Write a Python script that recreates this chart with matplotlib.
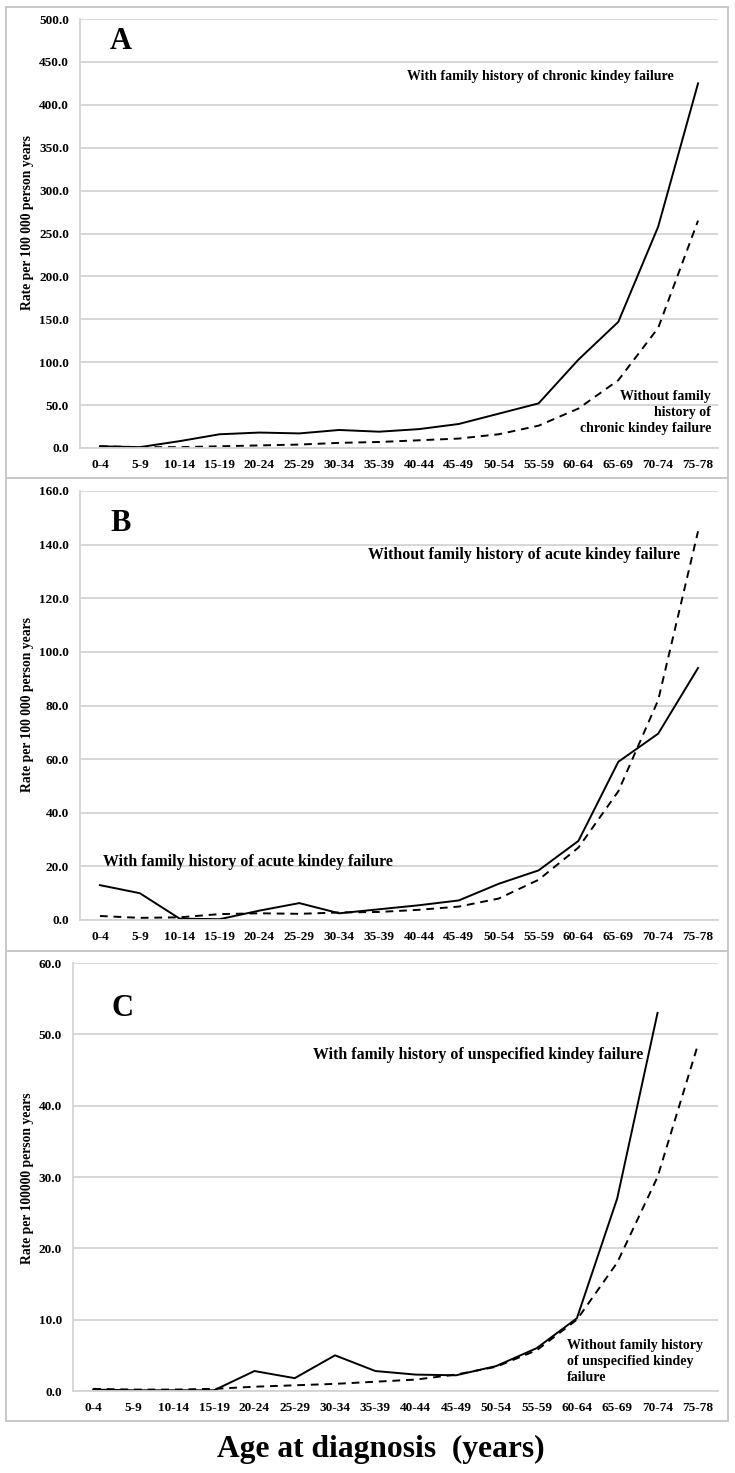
import matplotlib
matplotlib.use("Agg")
import matplotlib.pyplot as plt
import numpy as np
from matplotlib.patches import Rectangle

# --- Data ---
age_groups = ["0-4", "5-9", "10-14", "15-19", "20-24", "25-29", "30-34", "35-39",
              "40-44", "45-49", "50-54", "55-59", "60-64", "65-69", "70-74", "75-78"]

chronic_with = [2, 1, 8, 16, 18, 17, 21, 19, 22, 28, 40, 52, 103, 147, 258, 425]
chronic_without = [2, 1, 1, 2, 3, 4, 6, 7, 9, 11, 16, 26, 46, 79, 140, 265]

acute_with = [13, 10, 0.5, 0.3, 3.5, 6.3, 2.5, 4, 5.5, 7.3, 13.5, 18.5, 29.5, 59, 69.5, 94]
acute_without = [1.5, 0.8, 1, 2.2, 2.5, 2.3, 2.8, 3, 3.8, 5, 8, 15, 27, 48, 82, 145]

unspec_with = [0.2, 0.1, 0.1, 0.1, 2.8, 1.8, 5.0, 2.8, 2.3, 2.2, 3.5, 6.0, 10.2, 27, 53, np.nan]
unspec_without = [0.3, 0.2, 0.2, 0.3, 0.6, 0.8, 1.0, 1.3, 1.6, 2.3, 3.4, 5.7, 10.0, 18, 30, 48.5]

W, H = 735, 1473
SERIF = "Liberation Serif"
GRID = "#d4d4d4"
TICK_FS = 9.5

fig = plt.figure(figsize=(W / 100, H / 100), dpi=100)


def px_axes(left, top, right, bottom):
    return fig.add_axes([left / W, 1 - bottom / H, (right - left) / W, (bottom - top) / H])


def panel_box(top, bottom):
    fig.patches.append(Rectangle((6 / W, 1 - bottom / H), (728 - 6) / W, (bottom - top) / H,
                                 transform=fig.transFigure, fill=False,
                                 edgecolor="#c8c8c8", linewidth=1.4))


def draw_panel(ax, with_vals, without_vals, ymax, step, letter, letter_pos):
    x = np.arange(len(age_groups))
    ax.plot(x, with_vals, color="black", linewidth=1.4)
    ax.plot(x, without_vals, color="black", linewidth=1.4, linestyle=(0, (4, 3)))
    ax.set_xlim(-0.5, len(age_groups) - 0.5)
    ax.set_ylim(0, ymax)
    ticks = np.arange(0, ymax + step / 2, step)
    ax.set_yticks(ticks)
    ax.set_yticklabels([f"{v:.1f}" for v in ticks],
                       fontfamily=SERIF, fontweight="bold", fontsize=TICK_FS)
    ax.set_xticks(x)
    ax.set_xticklabels(age_groups, fontfamily=SERIF, fontweight="bold", fontsize=TICK_FS)
    ax.tick_params(length=0, pad=8)
    ax.grid(axis="y", color=GRID, linewidth=1.3)
    ax.set_axisbelow(True)
    for s in ["top", "right"]:
        ax.spines[s].set_visible(False)
    for s in ["left", "bottom"]:
        ax.spines[s].set_color(GRID)
        ax.spines[s].set_linewidth(1.3)
    ax.text(letter_pos[0], letter_pos[1], letter, transform=ax.transAxes, fontfamily=SERIF,
            fontweight="bold", fontsize=22, ha="center", va="center")


def note(ax, x, y, s, size, ha="left"):
    ax.text(x, y, s, transform=ax.transAxes, fontfamily=SERIF, fontweight="bold",
            fontsize=size, ha=ha, va="center", multialignment=ha, linespacing=1.3)


def ylab(y, s):
    fig.text(28 / W, 1 - y / H, s, rotation=90, ha="center", va="center",
             fontfamily=SERIF, fontweight="bold", fontsize=9.8)


# panel frames
panel_box(7, 478)
panel_box(478, 951)
panel_box(951, 1421)

# --- A: chronic ---
axA = px_axes(80, 19, 718, 448)
draw_panel(axA, chronic_with, chronic_without, 500, 50, "A", (0.064, 0.948))
note(axA, 0.5125, 0.865, "With family history of chronic kindey failure", 10)
note(axA, 0.989, 0.082, "Without family\nhistory of\nchronic kindey failure", 10, ha="right")
ylab(223, "Rate per 100 000 person years")

# --- B: acute ---
axB = px_axes(80, 491, 718, 920)
draw_panel(axB, acute_with, acute_without, 160, 20, "B", (0.063, 0.925))
note(axB, 0.451, 0.851, "Without family history of acute kindey failure", 11.4)
note(axB, 0.036, 0.135, "With family history of acute kindey failure", 11.4)
ylab(705, "Rate per 100 000 person years")

# --- C: unspecified ---
axC = px_axes(73, 963, 718, 1391)
draw_panel(axC, unspec_with, unspec_without, 60, 10, "C", (0.076, 0.893))
note(axC, 0.372, 0.785, "With family history of unspecified kindey failure", 11.4)
note(axC, 0.766, 0.068, "Without family history\nof unspecified kindey\nfailure", 10)
ylab(1178, "Rate per 100000 person years")

fig.text(381 / W, 1 - 1449 / H, "Age at diagnosis  (years)", ha="center", va="center",
         fontfamily=SERIF, fontweight="bold", fontsize=22.7)

fig.savefig("out.png", dpi=100, facecolor="white")
